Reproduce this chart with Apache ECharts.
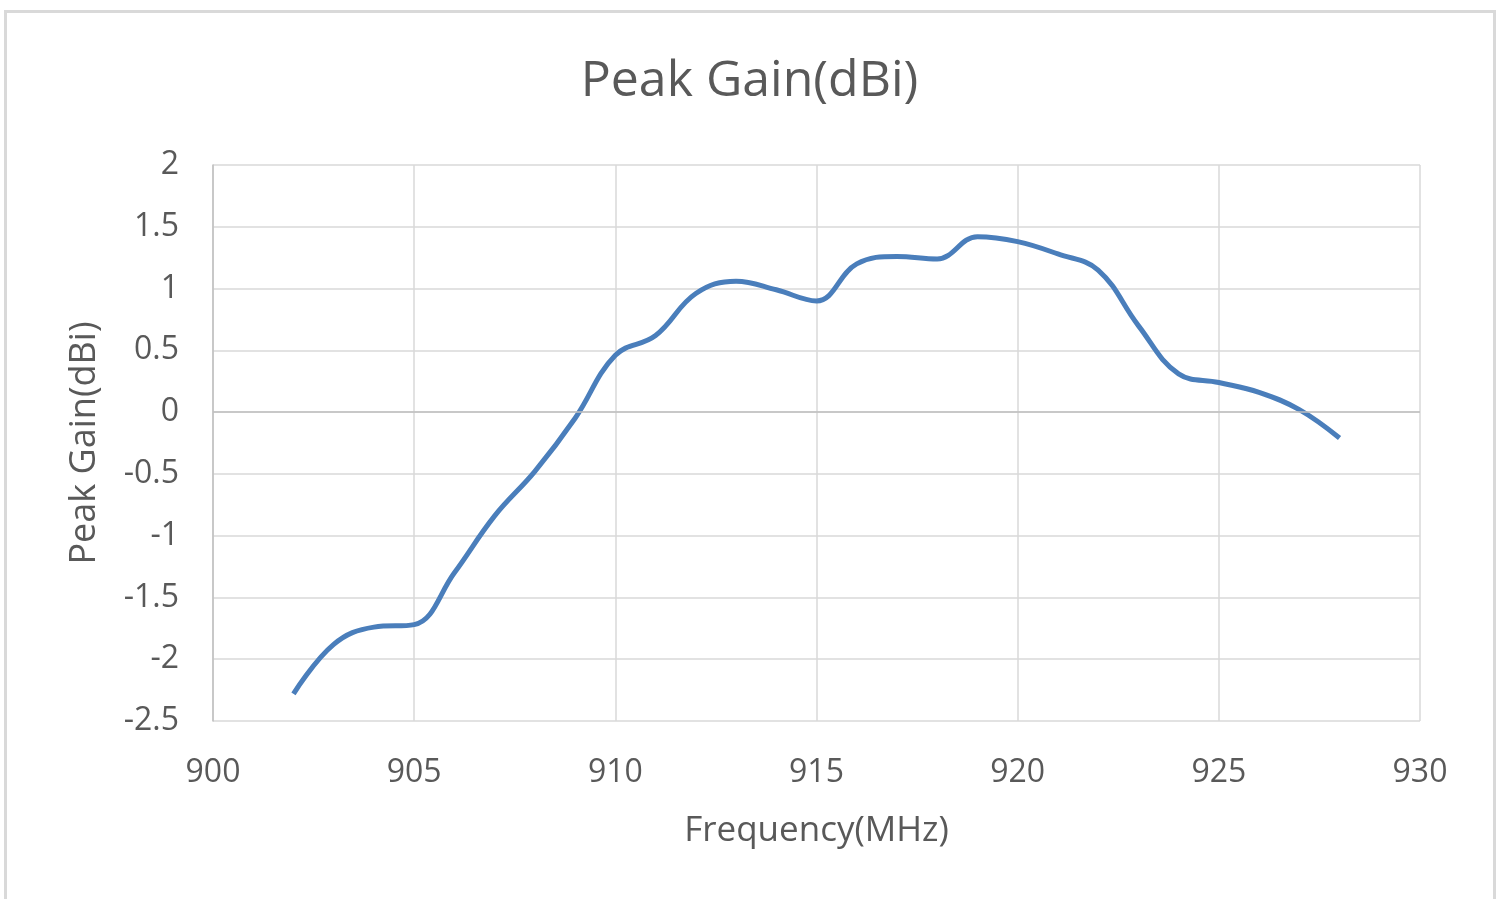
<!DOCTYPE html>
<html>
<head>
<meta charset="utf-8">
<script src="https://cdn.jsdelivr.net/npm/echarts@6/dist/echarts.min.js"></script>
<style>
  html, body { margin: 0; padding: 0; background: #fff; }
  #gain-chart { width: 1499px; height: 899px; }
</style>
</head>
<body>
<div id="gain-chart"></div>
<script>
// frequency in MHz, peak gain in dBi
var freqs = [902, 903, 904, 905, 906, 907, 908, 909, 910, 911, 912, 913, 914, 915,
             916, 917, 918, 919, 920, 921, 922, 923, 924, 925, 926, 927, 928];
var gains = [-2.28, -1.88, -1.74, -1.72, -1.30, -0.84, -0.48, -0.05, 0.46, 0.62, 0.96, 1.06, 0.99, 0.90,
             1.20, 1.26, 1.24, 1.42, 1.38, 1.28, 1.15, 0.70, 0.31, 0.24, 0.16, 0.02, -0.21];

var chartDom = document.getElementById('gain-chart');
var gainChart = echarts.init(chartDom);

var textColor = '#595959';
var fontName = '"Open Sans", sans-serif';

var option = {
  animation: false,
  textStyle: { fontFamily: fontName },
  title: {
    text: 'Peak Gain(dBi)',
    left: 'center',
    top: 52,
    textStyle: { color: textColor, fontSize: 50, fontWeight: 'normal', fontFamily: fontName }
  },
  graphic: [{
    type: 'rect',
    shape: { x: 5.5, y: 11.5, width: 1489, height: 900 },
    style: { fill: 'none', stroke: '#d9d9d9', lineWidth: 3 },
    silent: true
  }],
  grid: { left: 213, right: 79, top: 165, bottom: 178 },
  xAxis: {
    type: 'value',
    min: 900,
    max: 930,
    interval: 5,
    name: 'Frequency(MHz)',
    nameLocation: 'middle',
    nameGap: 93,
    nameTextStyle: { color: textColor, fontSize: 35, fontFamily: fontName },
    axisLine: { show: false, onZero: false },
    axisTick: { show: false },
    axisLabel: { color: textColor, fontSize: 32, margin: 36, fontFamily: fontName },
    splitLine: { show: true, lineStyle: { color: '#d9d9d9', width: 1.5 } }
  },
  yAxis: {
    type: 'value',
    min: -2.5,
    max: 2,
    interval: 0.5,
    name: 'Peak Gain(dBi)',
    nameLocation: 'middle',
    nameGap: 110,
    nameTextStyle: { color: textColor, fontSize: 36, fontFamily: fontName },
    axisLine: { show: true, lineStyle: { color: '#bfbfbf', width: 1.5 } },
    axisTick: { show: false },
    axisLabel: { color: textColor, fontSize: 32, margin: 34, fontFamily: fontName },
    splitLine: { show: true, lineStyle: { color: '#d9d9d9', width: 1.5 } }
  },
  series: [
    {
      // darker line where the horizontal axis crosses at 0
      type: 'line',
      data: [],
      z: 1,
      markLine: {
        silent: true,
        symbol: ['none', 'none'],
        label: { show: false },
        lineStyle: { color: '#bfbfbf', width: 1.5, type: 'solid' },
        data: [{ yAxis: 0 }]
      }
    },
    {
      type: 'line',
      z: 3,
      data: freqs.map(function (f, i) { return [f, gains[i]]; }),
      smooth: 0.4,
      showSymbol: false,
      lineStyle: { color: '#4a7ebb', width: 5 }
    }
  ]
};
gainChart.setOption(option);

window.addEventListener('resize', function () {
  gainChart.resize();
});
</script>
</body>
</html>
